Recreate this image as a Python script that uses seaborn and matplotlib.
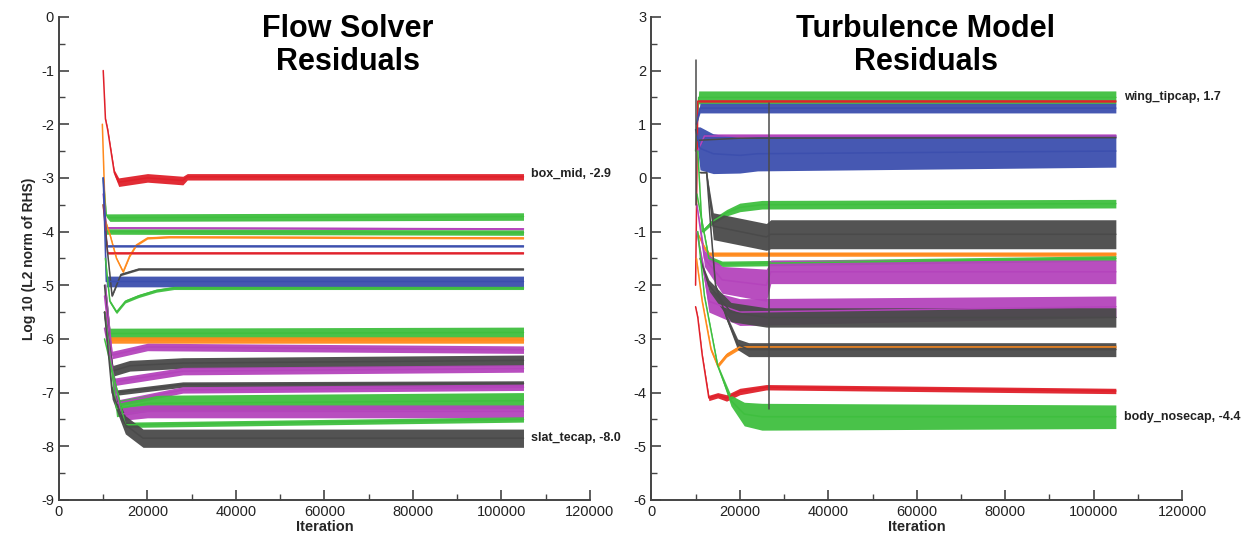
import numpy as np
import pandas as pd
import matplotlib
matplotlib.use("Agg")
import matplotlib.pyplot as plt
import seaborn as sns
from matplotlib.ticker import MultipleLocator

sns.set_style("ticks")
plt.rcParams['font.family'] = ['Liberation Sans', 'DejaVu Sans']
plt.rcParams['axes.unicode_minus'] = False

COL = {"red": "#e0202a", "green": "#3fbf3f", "blue": "#3c4fae", "mag": "#b444bc",
       "orange": "#ff8a1c", "gray": "#4a4a4a"}

# ---------------- Flow solver residuals (left panel) ----------------
FLOW_COLOR = ["red", "green", "mag", "green", "orange", "blue", "red", "gray", "blue", "green",
              "green", "orange", "mag", "gray", "mag", "gray", "mag", "green", "mag", "green", "gray"]
FLOW_X = [
    [10000, 10500, 11000, 12500, 13500, 20000, 28000, 29000, 105000],
    [10000, 10700, 11500, 105000],
    [10000, 10700, 105000],
    [10000, 10700, 105000],
    [9800, 10500, 11500, 13000, 14500, 16000, 17500, 20000, 25000, 105000],
    [10000, 10800, 105000],
    [10000, 11000, 105000],
    [10500, 12000, 14000, 16000, 18000, 105000],
    [10000, 10700, 105000],
    [10500, 11500, 13000, 15000, 18000, 22000, 26000, 105000],
    [10500, 11500, 105000],
    [10500, 11500, 105000],
    [10500, 12000, 20000, 105000],
    [10300, 12000, 16000, 28000, 105000],
    [10300, 12500, 28000, 105000],
    [10300, 13000, 28000, 105000],
    [10300, 13000, 28000, 105000],
    [10300, 13000, 20000, 105000],
    [10300, 14000, 20000, 105000],
    [10300, 15000, 105000],
    [10300, 12000, 15000, 19000, 105000],
]
FLOW_Y = [
    [-1.0, -1.9, -2.1, -2.9, -3.08, -3.0, -3.05, -2.98, -2.98],
    [-3.0, -3.7, -3.74, -3.72],
    [-3.3, -3.93, -3.95],
    [-3.5, -4.0, -4.02],
    [-2.0, -3.8, -4.05, -4.5, -4.75, -4.45, -4.25, -4.12, -4.1, -4.12],
    [-3.0, -4.27, -4.27],
    [-3.5, -4.4, -4.4],
    [-4.0, -5.2, -4.8, -4.75, -4.7, -4.7],
    [-3.0, -4.93, -4.93],
    [-4.5, -5.3, -5.5, -5.3, -5.2, -5.1, -5.05, -5.05],
    [-5.0, -5.9, -5.88],
    [-5.5, -6.02, -6.02],
    [-5.0, -6.3, -6.15, -6.2],
    [-5.0, -6.6, -6.5, -6.45, -6.4],
    [-5.2, -6.8, -6.6, -6.55],
    [-5.5, -7.0, -6.85, -6.83],
    [-5.5, -7.2, -6.95, -6.9],
    [-5.5, -7.3, -7.2, -7.15],
    [-5.8, -7.4, -7.35, -7.35],
    [-6.0, -7.6, -7.5],
    [-5.5, -7.0, -7.6, -7.85, -7.85],
]
FLOW_HALF = [
    [0.01, 0.02, 0.03, 0.05, 0.08, 0.08, 0.08, 0.06, 0.06],
    [0.0, 0.03, 0.07, 0.07],
    [0.0, 0.02, 0.02],
    [0.0, 0.05, 0.05],
    [0.01, 0.02, 0.02, 0.02, 0.02, 0.02, 0.02, 0.02, 0.02, 0.02],
    [0.0, 0.02, 0.02],
    [0.0, 0.02, 0.02],
    [0.0, 0.02, 0.02, 0.02, 0.02, 0.02],
    [0.0, 0.1, 0.1],
    [0.01, 0.03, 0.03, 0.03, 0.03, 0.03, 0.03, 0.03],
    [0.0, 0.1, 0.1],
    [0.0, 0.06, 0.06],
    [0.0, 0.07, 0.07, 0.07],
    [0.0, 0.1, 0.1, 0.1, 0.1],
    [0.0, 0.07, 0.07, 0.07],
    [0.0, 0.05, 0.05, 0.05],
    [0.0, 0.06, 0.06, 0.06],
    [0.0, 0.15, 0.15, 0.15],
    [0.0, 0.12, 0.12, 0.12],
    [0.0, 0.05, 0.05],
    [0.0, 0.12, 0.17, 0.17, 0.17],
]
FLOW_LABELS = ["box_mid, -2.9", "slat_tecap, -8.0"]
FLOW_LABEL_Y = [-2.93, -7.85]

# ---------------- Turbulence model residuals (right panel) ----------------
TURB_COLOR = ["green", "red", "blue", "mag", "gray", "blue", "green", "gray", "orange", "green",
              "mag", "mag", "gray", "orange", "gray", "red", "green", "gray", "gray"]
TURB_X = [
    [10000, 10700, 105000],
    [10000, 10500, 105000],
    [10200, 11000, 105000],
    [10500, 12000, 105000],
    [10500, 20000, 105000],
    [10000, 11000, 14000, 20000, 24000, 105000],
    [10500, 11500, 14000, 17000, 20000, 25000, 105000],
    [12500, 14000, 26000, 27000, 105000],
    [10300, 12000, 13000, 105000],
    [10300, 13000, 16000, 105000],
    [10300, 12000, 16000, 26000, 27000, 105000],
    [10300, 13000, 20000, 105000],
    [11000, 13000, 18000, 26000, 105000],
    [10200, 11500, 13500, 15000, 17000, 20000, 105000],
    [11000, 12500, 13500, 14500, 17000, 19500, 22000, 105000],
    [10000, 10500, 11500, 13000, 15000, 17000, 20000, 26000, 105000],
    [10500, 12000, 15000, 18000, 21000, 25000, 105000],
    [10000, 10000],
    [26500, 26500],
]
TURB_Y = [
    [0.5, 1.5, 1.5],
    [-2.0, 1.43, 1.43],
    [1.0, 1.3, 1.3],
    [0.5, 0.78, 0.78],
    [0.7, 0.74, 0.75],
    [0.9, 0.55, 0.45, 0.42, 0.45, 0.5],
    [0.5, -1.0, -0.8, -0.65, -0.55, -0.5, -0.48],
    [0.1, -0.9, -1.1, -1.05, -1.05],
    [-1.0, -1.3, -1.42, -1.42],
    [-0.3, -1.5, -1.6, -1.5],
    [-0.5, -1.5, -1.9, -2.0, -1.75, -1.75],
    [-1.0, -2.3, -2.5, -2.4],
    [-1.5, -2.0, -2.5, -2.6, -2.6],
    [-1.5, -2.3, -3.2, -3.5, -3.3, -3.15, -3.15],
    [0.1, 0.1, -1.0, -2.0, -2.6, -3.1, -3.2, -3.2],
    [-2.4, -2.6, -3.3, -4.1, -4.05, -4.1, -3.98, -3.9, -3.97],
    [-1.0, -2.2, -3.5, -4.15, -4.4, -4.45, -4.45],
    [-0.5, 2.2],
    [-4.3, 1.4],
]
TURB_HALF = [
    [0.0, 0.12, 0.12],
    [0.0, 0.02, 0.02],
    [0.0, 0.09, 0.09],
    [0.0, 0.04, 0.04],
    [0.0, 0.01, 0.01],
    [0.05, 0.4, 0.37, 0.33, 0.32, 0.3],
    [0.02, 0.03, 0.05, 0.06, 0.08, 0.08, 0.08],
    [0.0, 0.25, 0.25, 0.27, 0.27],
    [0.0, 0.04, 0.04, 0.04],
    [0.0, 0.05, 0.05, 0.05],
    [0.0, 0.15, 0.25, 0.3, 0.22, 0.22],
    [0.0, 0.2, 0.25, 0.2],
    [0.0, 0.1, 0.18, 0.18, 0.18],
    [0.01, 0.03, 0.04, 0.04, 0.04, 0.04, 0.04],
    [0.01, 0.01, 0.02, 0.03, 0.05, 0.1, 0.13, 0.13],
    [0.01, 0.02, 0.03, 0.05, 0.05, 0.06, 0.06, 0.05, 0.05],
    [0.01, 0.02, 0.03, 0.1, 0.22, 0.25, 0.22],
    [0.0, 0.0],
    [0.0, 0.0],
]
TURB_LABELS = ["wing_tipcap, 1.7", "body_nosecap, -4.4"]
TURB_LABEL_Y = [1.5, -4.45]

X_TICKS = [0, 20000, 40000, 60000, 80000, 100000, 120000]


def draw_panel(ax, colors, xs_list, ys_list, half_list, labels, label_y, title, title_x, ylim):
    for c, xs, ys, hs in zip(colors, xs_list, ys_list, half_list):
        xs = np.asarray(xs, float)
        ys = np.asarray(ys, float)
        hs = np.asarray(hs, float)
        if hs.max() > 0.015:
            ax.fill_between(xs, ys - hs, ys + hs, color=COL[c], lw=0, alpha=0.95)
        df = pd.DataFrame({"x": xs, "y": ys})
        sns.lineplot(data=df, x="x", y="y", ax=ax, color=COL[c], lw=1.1,
                     estimator=None, sort=False)
    for t, yv in zip(labels, label_y):
        ax.text(106800, yv, t, fontsize=9, fontweight="bold", va="center", ha="left",
                color="#222222", clip_on=False)
    ax.text(title_x, 1.005, title, transform=ax.transAxes, ha="center", va="top",
            fontsize=22, fontweight="bold", linespacing=1.12, color="black")
    ax.set_xlim(0, 120000)
    ax.set_ylim(*ylim)
    ax.set_xticks(X_TICKS)
    ax.set_xticklabels([str(v) for v in X_TICKS])
    ax.xaxis.set_minor_locator(MultipleLocator(10000))
    ax.yaxis.set_major_locator(MultipleLocator(1))
    ax.yaxis.set_minor_locator(MultipleLocator(0.5))
    ax.tick_params(which="major", direction="in", length=7, width=1.2, colors="#444444",
                   labelcolor="#222222", labelsize=10.5)
    ax.tick_params(which="minor", direction="in", length=4, width=1.0, colors="#444444")
    for s in ["top", "right"]:
        ax.spines[s].set_visible(False)
    for s in ["left", "bottom"]:
        ax.spines[s].set_color("#444444")
        ax.spines[s].set_linewidth(1.4)
    ax.set_xlabel("Iteration", fontsize=10.5, fontweight="bold", labelpad=1)
    ax.set_ylabel("")


fig = plt.figure(figsize=(12.55, 5.44), dpi=100)
ax1 = fig.add_axes([0.047, 0.081, 0.423, 0.888])
ax2 = fig.add_axes([0.519, 0.081, 0.423, 0.888])

draw_panel(ax1, FLOW_COLOR, FLOW_X, FLOW_Y, FLOW_HALF, FLOW_LABELS, FLOW_LABEL_Y,
           "Flow Solver\nResiduals", 0.544, (-9, 0))
draw_panel(ax2, TURB_COLOR, TURB_X, TURB_Y, TURB_HALF, TURB_LABELS, TURB_LABEL_Y,
           "Turbulence Model\nResiduals", 0.517, (-6, 3))
ax1.set_ylabel("Log 10 (L2 norm of RHS)", fontsize=10, fontweight="bold", labelpad=4)

fig.savefig("out.png", dpi=100, facecolor="white")
